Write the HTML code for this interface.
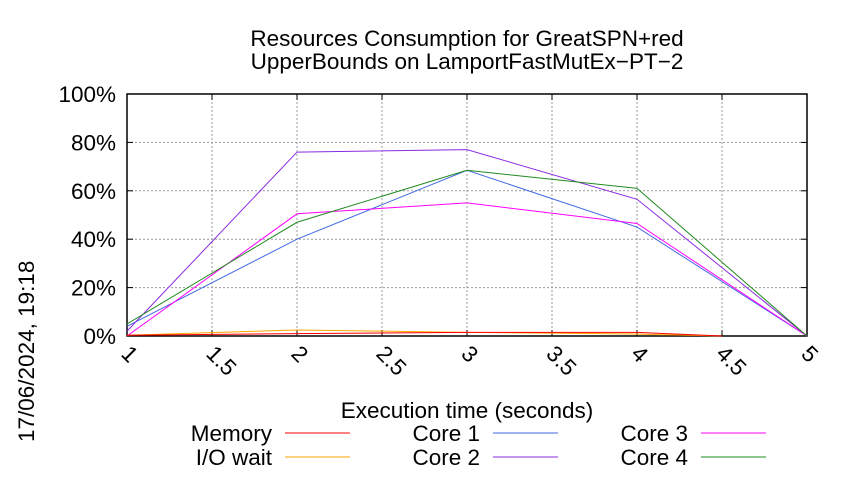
<!DOCTYPE html>
<html><head><meta charset="utf-8"><style>
body{margin:0;background:#fff}
svg{font-family:"Liberation Sans",sans-serif}
</style></head><body>
<svg width="850" height="475" viewBox="0 0 850 475">
<rect width="850" height="475" fill="#fff"/>
<text x="467" y="46" font-size="22.5" text-anchor="middle">Resources Consumption for GreatSPN+red</text>
<text x="467" y="69" font-size="22.5" text-anchor="middle">UpperBounds on LamportFastMutEx−PT−2</text>
<text transform="translate(34,442) rotate(-90)" font-size="22.5">17/06/2024, 19:18</text>
<g id="grid"></g>
<g id="axes"></g>
<g id="series"></g>
<text x="467" y="418" font-size="22.5" text-anchor="middle">Execution time (seconds)</text>
<g id="legend"></g>
</svg>
<script>
const xTicks=[1,1.5,2,2.5,3,3.5,4,4.5,5];
const xTickLabels=["1","1.5","2","2.5","3","3.5","4","4.5","5"];
const yTicks=[0,20,40,60,80,100];
const yTickLabels=["0%","20%","40%","60%","80%","100%"];
const seriesNames=["Memory","I/O wait","Core 1","Core 2","Core 3","Core 4"];
const seriesColors=["#ff0000","#ffa500","#4169e1","#8a2be2","#ff00ff","#228b22"];
const memX=[1,2,3,4,4.5], memY=[0.3,1,1.5,1.5,0];
const ioX=[1,2,3,4,4.5], ioY=[0.3,2.5,1.5,0.8,0];
const c1X=[1,2,3,4,5], c1Y=[4,40,68.5,45,0];
const c2X=[1,2,3,4,5], c2Y=[2,76,77,56.5,0];
const c3X=[1,2,3,4,5], c3Y=[0,50.5,55,46.5,0];
const c4X=[1,2,3,4,5], c4Y=[5,47,68.5,61,0];
const X0=127,X1=807,Y0=336,Y1=94;
const sx=v=>X0+(v-1)/4*(X1-X0);
const sy=v=>Y0-v/100*(Y0-Y1);
const NS="http://www.w3.org/2000/svg";
function mk(tag,attrs,parent,txt){const e=document.createElementNS(NS,tag);for(const k in attrs)e.setAttribute(k,attrs[k]);if(txt!==undefined)e.textContent=txt;parent.appendChild(e);return e;}
const grid=document.getElementById('grid'),axes=document.getElementById('axes'),ser=document.getElementById('series'),leg=document.getElementById('legend');
xTicks.forEach((t,i)=>{
  const g=mk('line',{x1:sx(t),x2:sx(t),y1:Y1,y2:Y0,stroke:'#999','stroke-dasharray':'2,2','stroke-width':1},grid);
  
  
  mk('line',{x1:sx(t),x2:sx(t),y1:Y0,y2:Y0-6,stroke:'#000'},axes);
  mk('line',{x1:sx(t),x2:sx(t),y1:Y1,y2:Y1+6,stroke:'#000'},axes);
  const l=mk('text',{transform:`translate(${sx(t)-7},${Y0+19}) rotate(45)`,'font-size':22.5},axes,xTickLabels[i]);
  
  
});
yTicks.forEach((t,i)=>{
  const g=mk('line',{x1:X0,x2:X1,y1:sy(t),y2:sy(t),stroke:'#999','stroke-dasharray':'2,2','stroke-width':1},grid);
  
  
  mk('line',{x1:X0,x2:X0+6,y1:sy(t),y2:sy(t),stroke:'#000'},axes);
  mk('line',{x1:X1,x2:X1-6,y1:sy(t),y2:sy(t),stroke:'#000'},axes);
  const l=mk('text',{x:X0-11,y:sy(t)+8,'font-size':22.5,'text-anchor':'end'},axes,yTickLabels[i]);
  
  
});
mk('rect',{x:X0,y:Y1,width:X1-X0,height:Y0-Y1,fill:'none',stroke:'#000','stroke-width':1.5},axes);
const data=[[memX,memY],[ioX,ioY],[c1X,c1Y],[c2X,c2Y],[c3X,c3Y],[c4X,c4Y]];
const order=[2,3,4,5,1,0];
order.forEach(i=>{
  const [xs,ys]=data[i];
  const p=mk('polyline',{points:xs.map((x,j)=>sx(x)+','+sy(ys[j])).join(' '),fill:'none',stroke:seriesColors[i],'stroke-width':1},ser);
  
  
});
const legPos=[[272,433],[272,457],[480,433],[480,457],[688,433],[688,457]];
seriesNames.forEach((n,i)=>{
  const [x,y]=legPos[i];
  const t=mk('text',{x:x,y:y+8,'font-size':22.5,'text-anchor':'end'},leg,n);
  
  
  const l=mk('line',{x1:x+13,x2:x+78,y1:y,y2:y,stroke:seriesColors[i],'stroke-width':1},leg);
  
  
});
</script>
</body></html>
